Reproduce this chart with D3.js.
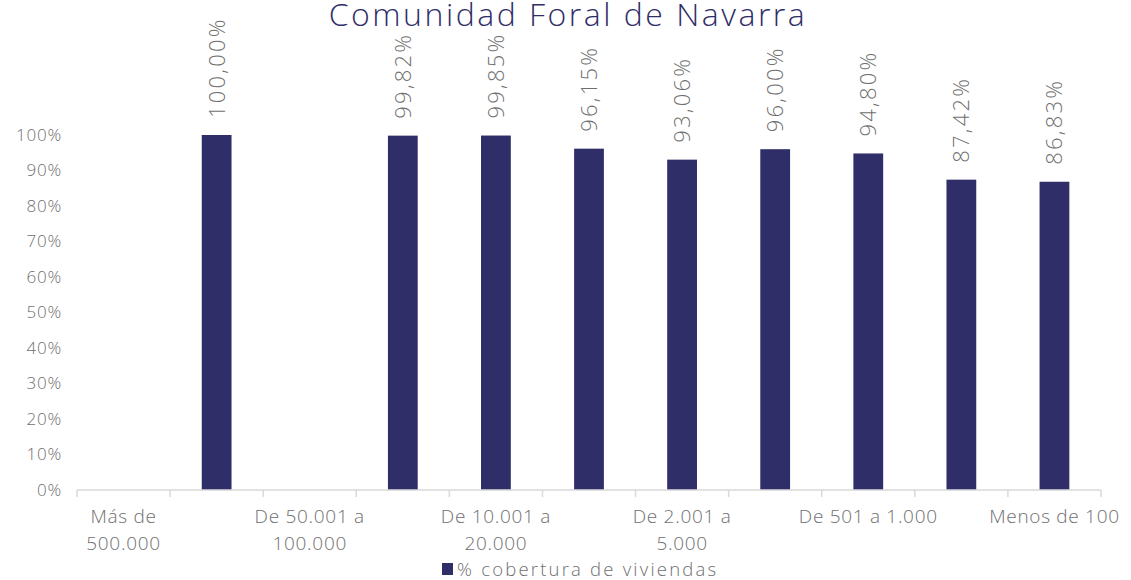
<!DOCTYPE html>
<html>
<head>
<meta charset="utf-8">
<script src="https://cdn.jsdelivr.net/npm/d3@7"></script>
<style>
  body { margin: 0; background: #fff; }
  svg { display: block; font-family: "Open Sans", "Lato", sans-serif; font-weight: 300; }
</style>
</head>
<body>
<svg id="chart" width="1131" height="580"></svg>
<script>
// municipality size bands (only every other one gets a label, like the original)
const categories = [
  'Más de 500.000',
  'De 100.001 a 500.000',
  'De 50.001 a 100.000',
  'De 20.001 a 50.000',
  'De 10.001 a 20.000',
  'De 5.001 a 10.000',
  'De 2.001 a 5.000',
  'De 1.001 a 2.000',
  'De 501 a 1.000',
  'De 101 a 500',
  'Menos de 100',
];
const tickLabels = [
  ['Más de', '500.000'], null,
  ['De 50.001 a', '100.000'], null,
  ['De 10.001 a', '20.000'], null,
  ['De 2.001 a', '5.000'], null,
  ['De 501 a 1.000'], null,
  ['Menos de 100'],
];
const coverage = [null, 100.00, null, 99.82, 99.85, 96.15, 93.06, 96.00, 94.80, 87.42, 86.83];
const yTicks = [0, 10, 20, 30, 40, 50, 60, 70, 80, 90, 100];
const seriesName = '% cobertura de viviendas';
const title = 'Comunidad Foral de Navarra';

const navy = '#302E69';
const grey = '#6f6f6f';

const svg = d3.select('#chart');
const margin = { left: 77, right: 30, top: 135, bottom: 90 };
const width = 1131;
const height = 580;

const x = d3.scaleBand()
  .domain(categories)
  .range([margin.left, width - margin.right])
  .paddingInner(0.68)
  .paddingOuter(0.34);

const y = d3.scaleLinear()
  .domain([0, 100])
  .range([height - margin.bottom, margin.top]);

const es = d3.formatLocale({ decimal: ',', thousands: '.', grouping: [3], currency: ['', '€'] });
const pct = es.format('.2f');

// title, sitting right at the top edge like the source image
svg.append('text')
  .attr('x', 568)
  .attr('y', 26)
  .attr('text-anchor', 'middle')
  .attr('fill', navy)
  .style('font-size', '32px')
  .style('letter-spacing', '2.5px')
  .text(title);

// y axis: labels only, no line
const yAxis = d3.axisLeft(y)
  .tickValues(yTicks)
  .tickSize(0)
  .tickPadding(15)
  .tickFormat(d => `${d}%`);

svg.append('g')
  .attr('transform', `translate(${margin.left},0)`)
  .call(yAxis)
  .attr('font-family', null)
  .attr('font-size', null)
  .call(g => g.select('.domain').remove())
  .call(g => g.selectAll('text')
    .attr('fill', grey)
    .style('font-size', '17px')
    .style('letter-spacing', '0.8px'));

// bars
const rows = categories.map((c, i) => ({ cat: c, value: coverage[i] }))
  .filter(d => d.value !== null);

svg.append('g')
  .selectAll('rect')
  .data(rows)
  .join('rect')
  .attr('x', d => x(d.cat))
  .attr('y', d => y(d.value))
  .attr('width', x.bandwidth())
  .attr('height', d => y(0) - y(d.value))
  .attr('fill', navy);

// rotated value labels
svg.append('g')
  .selectAll('text')
  .data(rows)
  .join('text')
  .attr('transform', d => `translate(${x(d.cat) + x.bandwidth() / 2},${y(d.value) - 17}) rotate(-90)`)
  .attr('dy', '0.36em')
  .attr('fill', grey)
  .style('font-size', '22px')
  .style('letter-spacing', '2.2px')
  .text(d => `${pct(d.value)}%`);

// x axis: baseline plus ticks on category boundaries
const step = x.step();
const x0 = x.range()[0];
const baseY = y(0);
const bounds = d3.range(categories.length + 1).map(i => x0 + i * step);

const xAxis = svg.append('g');
xAxis.append('line')
  .attr('x1', x0)
  .attr('x2', x.range()[1])
  .attr('y1', baseY)
  .attr('y2', baseY)
  .attr('stroke', '#d9d9d9')
  .attr('stroke-width', 1.5);

xAxis.selectAll('.tick')
  .data(bounds)
  .join('line')
  .attr('class', 'tick')
  .attr('x1', d => d)
  .attr('x2', d => d)
  .attr('y1', baseY)
  .attr('y2', baseY + 7)
  .attr('stroke', '#d9d9d9')
  .attr('stroke-width', 1.5);

const labelled = categories.map((c, i) => ({ cat: c, lines: tickLabels[i] }))
  .filter(d => d.lines);

xAxis.selectAll('.cat')
  .data(labelled)
  .join('text')
  .attr('class', 'cat')
  .attr('text-anchor', 'middle')
  .attr('fill', grey)
  .style('font-size', '19px')
  .style('letter-spacing', '0.7px')
  .each(function addLines(d) {
    d3.select(this).selectAll('tspan')
      .data(d.lines)
      .join('tspan')
      .attr('x', x(d.cat) + x.bandwidth() / 2)
      .attr('y', (l, j) => baseY + 33 + j * 27)
      .text(l => l);
  });

// legend
const legend = svg.append('g').attr('transform', 'translate(442,563)');
legend.append('rect')
  .attr('width', 11)
  .attr('height', 12)
  .attr('fill', navy);
legend.append('text')
  .attr('x', 15)
  .attr('y', 13)
  .attr('fill', grey)
  .style('font-size', '18.5px')
  .style('letter-spacing', '2.2px')
  .text(seriesName);
</script>
</body>
</html>
